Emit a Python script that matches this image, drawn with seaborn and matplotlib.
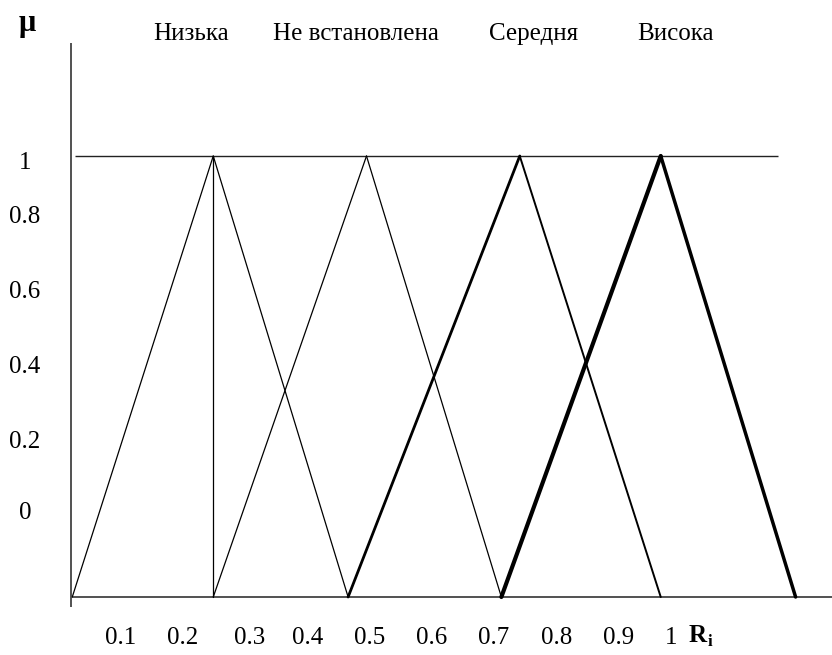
import matplotlib
matplotlib.use("Agg")
import matplotlib.pyplot as plt
import seaborn as sns

# Fuzzy terms for the rating R_i and their triangular membership functions
terms = ["Низька", "Не встановлена", "Середня", "Висока"]
left_feet = [0.02, 0.25, 0.47, 0.72]
peaks = [0.25, 0.50, 0.75, 0.98]
right_feet = [0.47, 0.72, 0.98, 1.20]

x_tick_labels = ["0.1", "0.2", "0.3", "0.4", "0.5", "0.6", "0.7", "0.8", "0.9", "1"]
y_tick_labels = ["1", "0.8", "0.6", "0.4", "0.2", "0"]

# Stroke widths (points) for the rising and falling edge of each term
rise_widths = [0.9, 0.9, 2.0, 3.0]
fall_widths = [0.9, 0.9, 1.4, 2.5]

W, H, DPI = 832, 655, 100
sns.set_theme(style="white")
plt.rcParams["font.family"] = ["Liberation Serif", "DejaVu Serif"]

fig = plt.figure(figsize=(W / DPI, H / DPI), dpi=DPI)
ax = fig.add_axes([0, 0, 1, 1])
ax.set_axis_off()

# data -> pixel layout: R=0 at x=60 px, 613 px per unit; mu=0 at 58 px from bottom, 441 px per unit
x0, kx = 60.0, 613.0
y0, ky = 58.0, 441.0
ax.set_xlim(-x0 / kx, (W - x0) / kx)
ax.set_ylim(-y0 / ky, (H - y0) / ky)


def fx(px):
    return (px - x0) / kx


def fy(py_top):
    return ((H - py_top) - y0) / ky


# axes lines
ax.plot([fx(71), fx(71)], [fy(607), fy(43)], color="#333333", lw=1.2, solid_capstyle="butt")
ax.plot([fx(72), fx(W)], [0, 0], color="#333333", lw=1.2, solid_capstyle="butt")
ax.plot([fx(75), fx(778)], [1, 1], color="#222222", lw=1.0, solid_capstyle="butt")

# membership triangles
for i in range(len(terms)):
    sns.lineplot(x=[left_feet[i], peaks[i]], y=[0, 1], ax=ax, color="black",
                 lw=rise_widths[i], estimator=None, sort=False)
    sns.lineplot(x=[peaks[i], right_feet[i]], y=[1, 0], ax=ax, color="black",
                 lw=fall_widths[i], estimator=None, sort=False)
# vertical line under the peak of the first term
sns.lineplot(x=[peaks[0], peaks[0]], y=[0, 1], ax=ax, color="black", lw=0.9,
             estimator=None, sort=False)


def ftext(px, py, s, **kw):
    fig.text(px / W, 1 - py / H, s, ha="center", va="center", **kw)


fs = 18
# term names above the chart
term_x = [191, 356, 534, 675]
for name, tx in zip(terms, term_x):
    ftext(tx, 34, name, fontsize=fs, color="black")

# y labels
y_lab_pos = [163, 217, 292, 367, 442, 513]
for lab, ty in zip(y_tick_labels, y_lab_pos):
    ftext(25, ty, lab, fontsize=fs, color="black")

# x labels
x_lab_pos = [121, 183, 250, 308, 370, 432, 494, 557, 619, 671]
for lab, tx in zip(x_tick_labels, x_lab_pos):
    ftext(tx, 638, lab, fontsize=fs, color="black")

# axis names
ftext(27, 24, "μ", fontsize=22, fontweight="bold", color="black")
ftext(698, 636, "R", fontsize=fs, fontweight="bold", color="black")
ftext(710, 642, "i", fontsize=12, fontweight="bold", color="black")

fig.savefig("out.png", dpi=DPI, facecolor="white")
